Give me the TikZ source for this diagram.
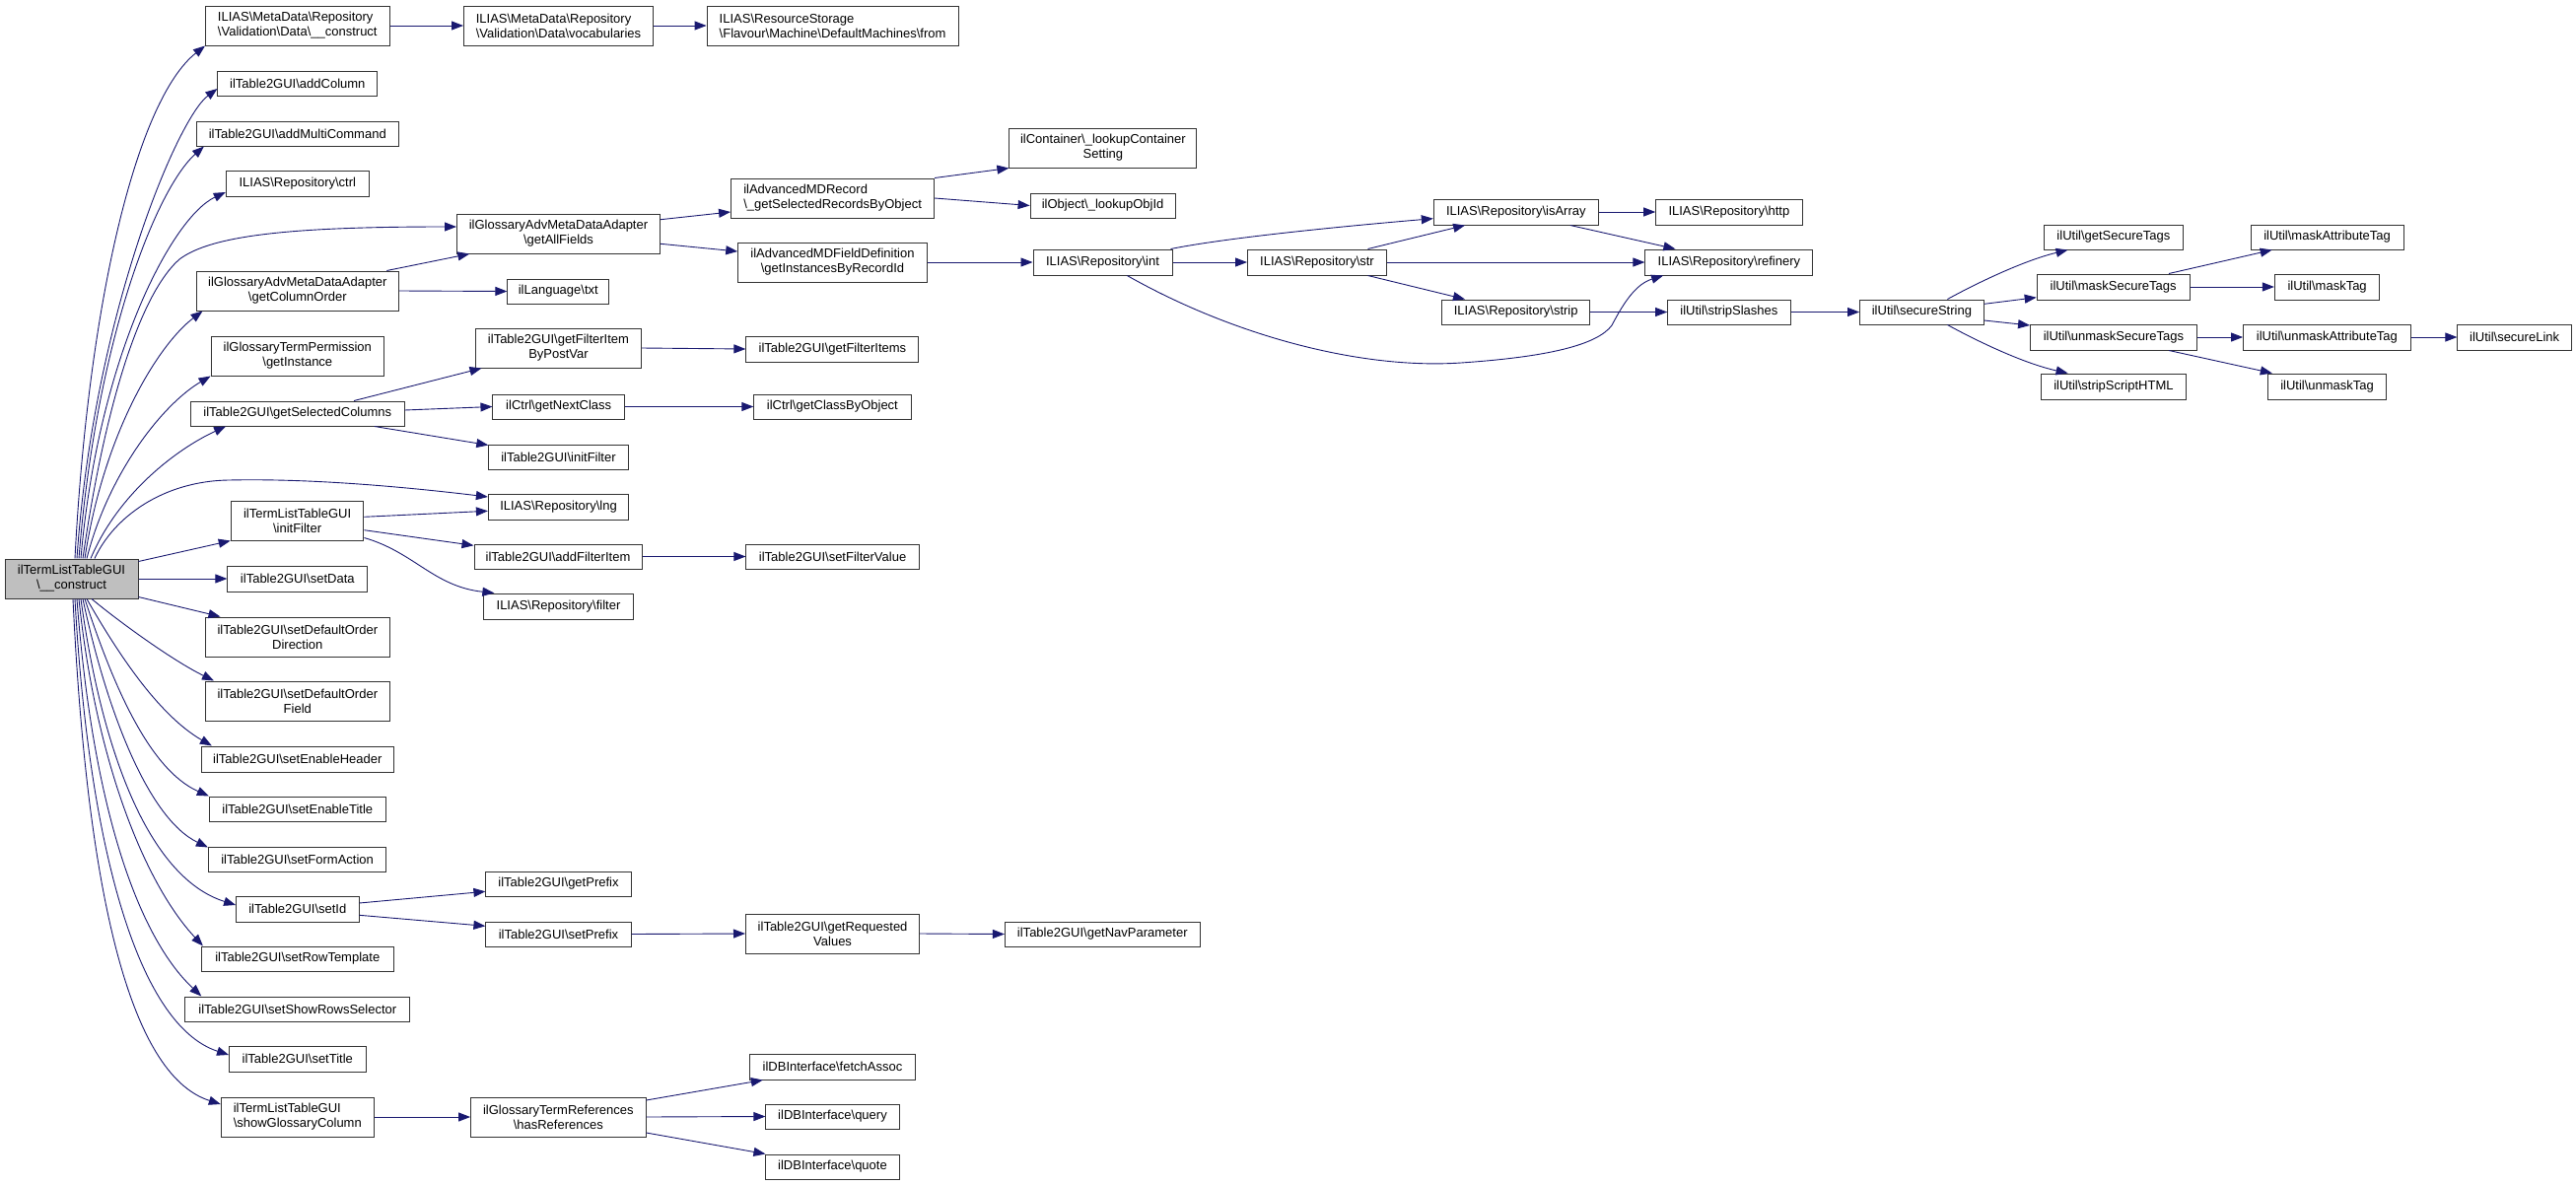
\documentclass[tikz,border=0pt]{standalone}
\usepackage{fontspec}
\setmainfont{Liberation Sans}
\usetikzlibrary{arrows.meta}
\definecolor{mblue}{HTML}{191970}
\definecolor{nodegray}{HTML}{BFBFBF}
\newcommand{\bks}{\textbackslash}
\begin{document}
\begin{tikzpicture}[x=1pt,y=-1pt,
  box/.style={draw=black!80, line width=1pt, fill=white, rectangle, inner sep=0pt, align=center,
    font=\fontsize{13}{15}\selectfont},
  sz/.style 2 args={minimum width=#1pt, minimum height=#2pt},
  edge/.style={draw=mblue, line width=0.9pt, -{Triangle[length=12pt,width=9pt]}}]
\useasboundingbox (0,0) rectangle (2613,1202);

% column 1
\node[box, sz={135}{40}, fill=nodegray] (main) at (72.5,587) {ilTermListTableGUI\\\bks\_\_construct};

% column 2
\node[box, sz={186.6}{40}, align=left] (vdc) at (301.8,26) {ILIAS\bks MetaData\bks Repository\\\bks Validation\bks Data\bks\_\_construct};
\node[box, sz={161.7}{25}] (addCol) at (301.8,84.5) {ilTable2GUI\bks addColumn};
\node[box, sz={204.8}{25}] (addMulti) at (301.8,135.5) {ilTable2GUI\bks addMultiCommand};
\node[box, sz={145}{26}] (ctrl) at (301.8,186) {ILIAS\bks Repository\bks ctrl};
\node[box, sz={205.6}{40}] (getColOrder) at (301.8,295) {ilGlossaryAdvMetaDataAdapter\\\bks getColumnOrder};
\node[box, sz={175.4}{40}] (perm) at (301.8,361) {ilGlossaryTermPermission\\\bks getInstance};
\node[box, sz={216.4}{25}] (getSelCols) at (301.8,419.5) {ilTable2GUI\bks getSelectedColumns};
\node[box, sz={134.7}{40}] (initFilter) at (301.6,528) {ilTermListTableGUI\\\bks initFilter};
\node[box, sz={141.8}{26}] (setData) at (301.8,587) {ilTable2GUI\bks setData};
\node[box, sz={186.6}{40}] (sdoDir) at (301.8,646) {ilTable2GUI\bks setDefaultOrder\\Direction};
\node[box, sz={186.6}{40}] (sdoField) at (301.8,711) {ilTable2GUI\bks setDefaultOrder\\Field};
\node[box, sz={194.8}{26}] (setEnHeader) at (301.8,770) {ilTable2GUI\bks setEnableHeader};
\node[box, sz={179}{25}] (setEnTitle) at (301.8,820.5) {ilTable2GUI\bks setEnableTitle};
\node[box, sz={180.3}{25}] (setFormAction) at (301.6,871.5) {ilTable2GUI\bks setFormAction};
\node[box, sz={124.4}{26}] (setId) at (301.8,922) {ilTable2GUI\bks setId};
\node[box, sz={194.8}{25}] (setRowTpl) at (301.8,972.5) {ilTable2GUI\bks setRowTemplate};
\node[box, sz={228}{25}] (setShowRows) at (301.8,1023.5) {ilTable2GUI\bks setShowRowsSelector};
\node[box, sz={138.5}{26}] (setTitle) at (301.8,1074) {ilTable2GUI\bks setTitle};
\node[box, sz={155}{40}, align=left] (showGloss) at (301.8,1133) {ilTermListTableGUI\\\bks showGlossaryColumn};

% column 3
\node[box, sz={192}{40}, align=left] (voc) at (566.5,26) {ILIAS\bks MetaData\bks Repository\\\bks Validation\bks Data\bks vocabularies};
\node[box, sz={206}{40}] (getAll) at (566.5,237) {ilGlossaryAdvMetaDataAdapter\\\bks getAllFields};
\node[box, sz={102.8}{25}] (txt) at (566.3,295.5) {ilLanguage\bks txt};
\node[box, sz={168}{40}] (getFilterItem) at (566.5,353) {ilTable2GUI\bks getFilterItem\\ByPostVar};
\node[box, sz={133.5}{25}] (getNext) at (566.7,412.5) {ilCtrl\bks getNextClass};
\node[box, sz={141.4}{25}] (initFilter2) at (566.5,463.5) {ilTable2GUI\bks initFilter};
\node[box, sz={142.2}{26}] (lng) at (566.5,514) {ILIAS\bks Repository\bks lng};
\node[box, sz={170}{25}] (addFilterItem) at (566,564.5) {ilTable2GUI\bks addFilterItem};
\node[box, sz={151.3}{26}] (filter) at (566.5,615) {ILIAS\bks Repository\bks filter};
\node[box, sz={147.2}{25}] (getPrefix) at (566.5,896.5) {ilTable2GUI\bks getPrefix};
\node[box, sz={147.2}{25}] (setPrefix) at (566.5,947.5) {ilTable2GUI\bks setPrefix};
\node[box, sz={177.4}{40}] (hasRef) at (566.3,1133) {ilGlossaryTermReferences\\\bks hasReferences};

% column 4
\node[box, sz={255}{40}, align=left] (from) at (844.6,26) {ILIAS\bks ResourceStorage\\\bks Flavour\bks Machine\bks DefaultMachines\bks from};
\node[box, sz={206}{40}, align=left] (selRec) at (844.6,201) {ilAdvancedMDRecord\\\bks\_getSelectedRecordsByObject};
\node[box, sz={191.5}{40}] (getInst) at (844.5,266) {ilAdvancedMDFieldDefinition\\\bks getInstancesByRecordId};
\node[box, sz={175}{26}] (getFilterItems) at (844.4,354) {ilTable2GUI\bks getFilterItems};
\node[box, sz={159.2}{25}] (getClassByObj) at (844.4,412.5) {ilCtrl\bks getClassByObject};
\node[box, sz={175.3}{25}] (setFilterValue) at (844.6,564.5) {ilTable2GUI\bks setFilterValue};
\node[box, sz={176.2}{40}] (getReq) at (844.6,947) {ilTable2GUI\bks getRequested\\Values};
\node[box, sz={168.3}{26}] (fetch) at (844.5,1082) {ilDBInterface\bks fetchAssoc};
\node[box, sz={135.1}{25}] (query) at (844.5,1132.5) {ilDBInterface\bks query};
\node[box, sz={135.1}{25}] (quote) at (844.5,1183.5) {ilDBInterface\bks quote};

% column 5
\node[box, sz={190}{40}] (lookupCont) at (1118.9,150) {ilContainer\bks\_lookupContainer\\Setting};
\node[box, sz={147}{25}] (lookupObj) at (1118.6,208.5) {ilObject\bks\_lookupObjId};
\node[box, sz={141}{26}] (int) at (1118.5,266) {ILIAS\bks Repository\bks int};
\node[box, sz={197.7}{25}] (getNav) at (1118.3,947.5) {ilTable2GUI\bks getNavParameter};

% columns 6-8
\node[box, sz={141}{26}] (str) at (1336,266) {ILIAS\bks Repository\bks str};
\node[box, sz={167}{26}] (isArray) at (1537.8,215) {ILIAS\bks Repository\bks isArray};
\node[box, sz={150.5}{25}] (strip) at (1537.7,316.5) {ILIAS\bks Repository\bks strip};
\node[box, sz={148.4}{26}] (http) at (1753.9,215) {ILIAS\bks Repository\bks http};
\node[box, sz={170}{26}] (refinery) at (1753.9,266) {ILIAS\bks Repository\bks refinery};
\node[box, sz={124.4}{25}] (stripSlashes) at (1753.9,316.5) {ilUtil\bks stripSlashes};

% columns 9-12
\node[box, sz={125.6}{25}] (secure) at (1949.4,316.5) {ilUtil\bks secureString};
\node[box, sz={140.8}{25}] (getSecTags) at (2143.9,240.5) {ilUtil\bks getSecureTags};
\node[box, sz={154.8}{26}] (maskSec) at (2143.6,291) {ilUtil\bks maskSecureTags};
\node[box, sz={168.7}{26}] (unmaskSec) at (2143.9,342) {ilUtil\bks unmaskSecureTags};
\node[box, sz={146.7}{26}] (stripScript) at (2143.9,392) {ilUtil\bks stripScriptHTML};
\node[box, sz={154.8}{25}] (maskAttr) at (2360.6,240.5) {ilUtil\bks maskAttributeTag};
\node[box, sz={106.5}{26}] (maskTag) at (2360.6,291) {ilUtil\bks maskTag};
\node[box, sz={169.6}{26}] (unmaskAttr) at (2360.4,342) {ilUtil\bks unmaskAttributeTag};
\node[box, sz={120}{26}] (unmaskTag) at (2360.6,392) {ilUtil\bks unmaskTag};
\node[box, sz={115.4}{26}] (secureLink) at (2550.6,342) {ilUtil\bks secureLink};

% edges from main (upward)
\draw[edge] ([xshift=3.5pt]main.north) .. controls (90,300) and (140,100) .. (vdc.south west);
\draw[edge] ([xshift=5.5pt]main.north) .. controls (95,320) and (180,120) .. ([yshift=-5.5pt]addCol.west);
\draw[edge] ([xshift=7.5pt]main.north) .. controls (98,340) and (160,190) .. ([xshift=8pt]addMulti.south west);
\draw[edge] ([xshift=9.5pt]main.north) .. controls (100,360) and (175,220) .. ([yshift=-9pt]ctrl.west);
\draw[edge] ([xshift=11.5pt]main.north) .. controls (105,420) and (140,300) .. (182,263)
   .. controls (215,238) and (300,230) .. ([yshift=7pt]getAll.west);
\draw[edge] ([xshift=13.5pt]main.north) .. controls (105,440) and (160,350) .. ([xshift=7pt]getColOrder.south west);
\draw[edge] ([xshift=15.5pt]main.north) .. controls (110,480) and (165,410) .. (perm.south west);
\draw[edge] ([xshift=19.5pt]main.north) .. controls (120,500) and (180,455) .. ([xshift=36pt]getSelCols.south west);
\draw[edge] ([xshift=23.5pt]main.north) .. controls (115,525) and (165,488) .. (232,487)
   .. controls (320,485) and (420,495) .. ([yshift=10pt]lng.west);
\draw[edge] ([yshift=-3pt]main.north east) -- (initFilter.south west);
\draw[edge] (main.east) -- (setData.west);
\draw[edge] ([yshift=2pt]main.south east) -- ([xshift=15.5pt]sdoDir.north west);
% edges from main (downward)
\draw[edge] ([xshift=20.5pt]main.south) .. controls (120,630) and (175,670) .. ([xshift=9pt]sdoField.north west);
\draw[edge] ([xshift=15.5pt]main.south) .. controls (118,660) and (160,725) .. ([xshift=11pt]setEnHeader.north west);
\draw[edge] ([xshift=13.5pt]main.south) .. controls (113,690) and (150,780) .. (setEnTitle.north west);
\draw[edge] ([xshift=11.5pt]main.south) .. controls (108,720) and (150,830) .. ([yshift=-1pt]setFormAction.north west);
\draw[edge] ([xshift=9.5pt]main.south) .. controls (103,760) and (150,890) .. ([yshift=4pt]setId.west);
\draw[edge] ([xshift=7.5pt]main.south) .. controls (98,780) and (150,900) .. ([xshift=2pt]setRowTpl.north west);
\draw[edge] ([xshift=5.5pt]main.south) .. controls (94,820) and (140,950) .. ([xshift=17pt]setShowRows.north west);
\draw[edge] ([xshift=3.5pt]main.south) .. controls (90,860) and (140,1040) .. ([yshift=4pt]setTitle.west);
\draw[edge] ([xshift=1.5pt]main.south) .. controls (88,900) and (130,1090) .. ([yshift=13pt]showGloss.west);

% other edges
\draw[edge] (vdc.east) -- (voc.west);
\draw[edge] (voc.east) -- (from.west);
\draw[edge] ([xshift=-12.8pt]getColOrder.north east) -- ([xshift=13.3pt]getAll.south west);
\draw[edge] (getColOrder.east) -- (txt.west);
\draw[edge] ([yshift=14.3pt]getAll.east) -- ([yshift=-14pt]selRec.west);
\draw[edge] ([yshift=-10.3pt]getAll.east) -- ([yshift=11pt]getInst.west);
\draw[edge] (selRec.north east) -- (lookupCont.south west);
\draw[edge] (selRec.east) -- (lookupObj.west);
\draw[edge] (getInst.east) -- (int.west);
\draw[edge] ([xshift=-2pt]int.north east) .. controls (1250,240) and (1380,228) .. ([yshift=-6.7pt]isArray.west);
\draw[edge] (int.east) -- (str.west);
\draw[edge] ([xshift=24.8pt]int.south) .. controls (1250,340) and (1380,375) .. (1482,368)
   .. controls (1570,362) and (1620,350) .. (1635,330)
   .. controls (1648,305) and (1660,288) .. ([xshift=18.7pt]refinery.south west);
\draw[edge] ([xshift=-19.5pt]str.north east) -- ([xshift=32.3pt]isArray.south west);
\draw[edge] (str.east) -- (refinery.west);
\draw[edge] ([xshift=-19.5pt]str.south east) -- ([xshift=24pt]strip.north west);
\draw[edge] (isArray.east) -- (http.west);
\draw[edge] ([xshift=-29pt]isArray.south east) -- ([xshift=31pt]refinery.north west);
\draw[edge] (strip.east) -- (stripSlashes.west);
\draw[edge] (stripSlashes.east) -- (secure.west);
\draw[edge] ([xshift=26pt]secure.north) .. controls (2000,290) and (2050,265) .. ([xshift=24.5pt]getSecTags.south west);
\draw[edge] ([yshift=8.2pt]secure.east) -- ([yshift=-10.7pt]maskSec.west);
\draw[edge] ([yshift=-8.5pt]secure.east) -- ([yshift=12pt]unmaskSec.west);
\draw[edge] ([xshift=26pt]secure.south) .. controls (2000,343) and (2050,368) .. ([xshift=27.5pt]stripScript.north west);
\draw[edge] ([xshift=-21.5pt]maskSec.north east) -- ([xshift=22pt]maskAttr.south west);
\draw[edge] (maskSec.east) -- (maskTag.west);
\draw[edge] (unmaskSec.east) -- (unmaskAttr.west);
\draw[edge] ([xshift=-28.7pt]unmaskSec.south east) -- ([xshift=4.7pt]unmaskTag.north west);
\draw[edge] (unmaskAttr.east) -- (secureLink.west);
\draw[edge] ([xshift=-51.4pt]getSelCols.north east) -- ([xshift=6.5pt]getFilterItem.south west);
\draw[edge] ([yshift=3.5pt]getSelCols.east) -- (getNext.west);
\draw[edge] ([xshift=-30.7pt]getSelCols.south east) -- ([yshift=-1pt]initFilter2.north west);
\draw[edge] (getFilterItem.east) -- (getFilterItems.west);
\draw[edge] (getNext.east) -- (getClassByObj.west);
\draw[edge] ([yshift=3.7pt]initFilter.east) -- ([yshift=-4.3pt]lng.west);
\draw[edge] ([yshift=-9.7pt]initFilter.east) -- ([yshift=11.2pt]addFilterItem.west);
\draw[edge] ([yshift=3pt]initFilter.south east) .. controls (420,560) and (440,595) .. ([xshift=11pt]filter.north west);
\draw[edge] (addFilterItem.east) -- (setFilterValue.west);
\draw[edge] ([yshift=6pt]setId.east) -- ([yshift=-7.8pt]getPrefix.west);
\draw[edge] ([yshift=-6.3pt]setId.east) -- ([yshift=8.2pt]setPrefix.west);
\draw[edge] (setPrefix.east) -- (getReq.west);
\draw[edge] (getReq.east) -- (getNav.west);
\draw[edge] (showGloss.east) -- (hasRef.west);
\draw[edge] ([yshift=17pt]hasRef.east) -- ([xshift=14pt]fetch.south west);
\draw[edge] (hasRef.east) -- (query.west);
\draw[edge] ([yshift=-16pt]hasRef.east) -- (quote.north west);
\end{tikzpicture}
\end{document}
